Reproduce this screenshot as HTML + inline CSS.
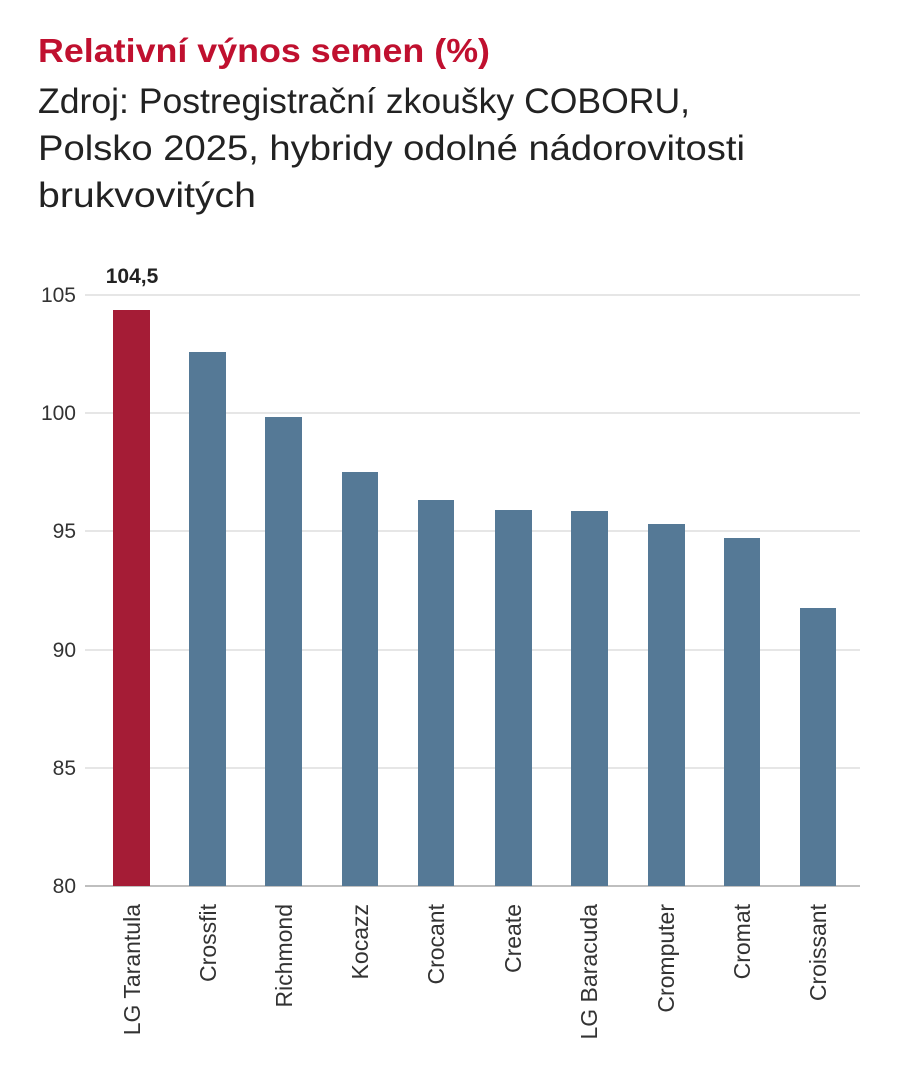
<!DOCTYPE html>
<html><head><meta charset="utf-8"><style>body{margin:0;background:#fff}svg{display:block}</style></head><body>
<svg width="914" height="1080" xmlns="http://www.w3.org/2000/svg" font-family="Liberation Sans, sans-serif">
<text x="38" y="62" font-size="33" font-weight="bold" fill="#c0102f" textLength="452" lengthAdjust="spacingAndGlyphs">Relativní výnos semen (%)</text>
<g font-size="35" fill="#222">
<text x="38" y="113" textLength="652" lengthAdjust="spacingAndGlyphs">Zdroj: Postregistrační zkoušky COBORU,</text>
<text x="38" y="160" textLength="707" lengthAdjust="spacingAndGlyphs">Polsko 2025, hybridy odolné nádorovitosti</text>
<text x="38" y="207" textLength="218" lengthAdjust="spacingAndGlyphs">brukvovitých</text>
</g>
<g stroke="#ddd" stroke-width="1.5">
<line x1="85" x2="860" y1="295" y2="295"/><line x1="85" x2="860" y1="413" y2="413"/><line x1="85" x2="860" y1="531" y2="531"/><line x1="85" x2="860" y1="650" y2="650"/><line x1="85" x2="860" y1="768" y2="768"/>
</g>
<line x1="85" x2="860" y1="886" y2="886" stroke="#aaa" stroke-width="1.5"/>
<g font-size="21" fill="#333" text-anchor="end">
<text x="76" y="302">105</text><text x="76" y="420">100</text><text x="76" y="538">95</text><text x="76" y="657">90</text><text x="76" y="775">85</text><text x="76" y="893">80</text>
</g>
<rect x="113" y="310" width="37" height="576" fill="#a51c36"/>
<g fill="#557996">
<rect x="189" y="352" width="37" height="534"/>
<rect x="265" y="417" width="37" height="469"/>
<rect x="342" y="472" width="36" height="414"/>
<rect x="418" y="500" width="36" height="386"/>
<rect x="495" y="510" width="37" height="376"/>
<rect x="571" y="511" width="37" height="375"/>
<rect x="648" y="524" width="37" height="362"/>
<rect x="724" y="538" width="36" height="348"/>
<rect x="800" y="608" width="36" height="278"/>
</g>
<text x="132" y="283" font-size="21" font-weight="bold" fill="#222" text-anchor="middle">104,5</text>
<g font-size="23" fill="#333" text-anchor="end">
<text transform="translate(140,904) rotate(-90)">LG Tarantula</text>
<text transform="translate(216,904) rotate(-90)">Crossfit</text>
<text transform="translate(292,904) rotate(-90)">Richmond</text>
<text transform="translate(368,904) rotate(-90)">Kocazz</text>
<text transform="translate(444,904) rotate(-90)">Crocant</text>
<text transform="translate(521,904) rotate(-90)">Create</text>
<text transform="translate(597,904) rotate(-90)">LG Baracuda</text>
<text transform="translate(674,904) rotate(-90)">Cromputer</text>
<text transform="translate(750,904) rotate(-90)">Cromat</text>
<text transform="translate(826,904) rotate(-90)">Croissant</text>
</g>
</svg>
</body></html>
